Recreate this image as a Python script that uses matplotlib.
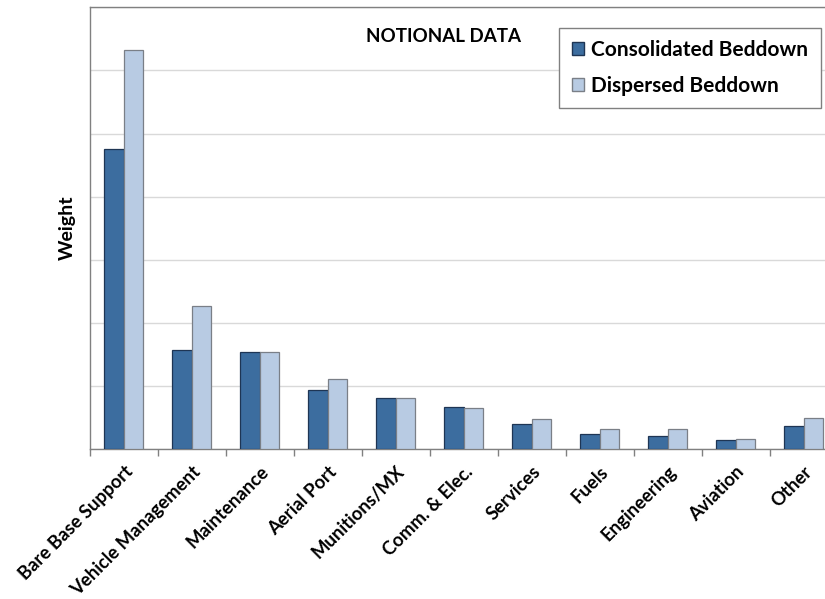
import numpy as np
import matplotlib.pyplot as plt
from matplotlib.patches import Patch

# datos (unidades de la rejilla)
categorias = ['Bare Base Support', 'Vehicle Management', 'Maintenance', 'Aerial Port',
              'Munitions/MX', 'Comm. & Elec.', 'Services', 'Fuels', 'Engineering',
              'Aviation', 'Other']
consolidado = [4.75, 1.565, 1.53, 0.935, 0.815, 0.66, 0.40, 0.23, 0.21, 0.15, 0.36]
disperso = [6.32, 2.27, 1.53, 1.105, 0.815, 0.65, 0.47, 0.32, 0.32, 0.165, 0.49]
series = ['Consolidated Beddown', 'Dispersed Beddown']

plt.rcParams['font.family'] = ['Lato', 'DejaVu Sans']

W, H = 825, 599
fig = plt.figure(figsize=(W / 100, H / 100), dpi=100)
# el eje se sale por la derecha, como en el original
ax = fig.add_axes([90 / W, (H - 449) / H, (837.6 - 90) / W, (449 - 7.3) / H])

x = np.arange(len(categorias))
w = 0.287
oscuro, claro = '#3c6d9f', '#b8cbe3'
ax.bar(x - w / 2, consolidado, w, color=oscuro, edgecolor='#1e3554', lw=0.9, zorder=3)
ax.bar(x + w / 2, disperso, w, color=claro, edgecolor='#7a7f87', lw=0.9, zorder=3)

ax.set_xlim(-0.5, len(categorias) - 0.5)
ax.set_ylim(0, 7)
ax.set_yticks(np.arange(0, 8))
ax.set_yticklabels([])
ax.tick_params(axis='y', length=0)
ax.yaxis.grid(True, color='#d9d9d9', lw=1, zorder=0)

# marcas en los límites de cada categoría
ax.set_xticks(np.arange(len(categorias) + 1) - 0.5)
ax.set_xticklabels([])
ax.tick_params(axis='x', which='major', direction='out', length=5, color='#808080', width=1)
ax.set_xticks(x, minor=True)
ax.set_xticklabels(categorias, minor=True, rotation=45, ha='right', rotation_mode='anchor',
                   fontsize=13.3, fontweight='bold')
ax.tick_params(axis='x', which='minor', length=0, pad=10)

for s in ['left', 'top', 'bottom', 'right']:
    ax.spines[s].set_color('#808080')
    ax.spines[s].set_linewidth(1)

ax.set_ylabel('Weight', fontsize=14, fontweight='bold', labelpad=7)
fig.text(444 / W, 1 - 37 / H, 'NOTIONAL DATA', fontsize=13.5, fontweight='bold',
         ha='center', va='center')

handles = [Patch(facecolor=oscuro, edgecolor='#1e3554'), Patch(facecolor=claro, edgecolor='#7a7f87')]
leg = fig.legend(handles, series, loc='upper left', bbox_to_anchor=(559 / W, 1 - 27.7 / H),
                 prop={'weight': 'bold', 'size': 15}, fancybox=False, borderaxespad=0,
                 edgecolor='#808080', framealpha=1, handlelength=0.6, handleheight=0.6,
                 handletextpad=0.35, labelspacing=0.75, borderpad=0.6)
leg.get_frame().set_linewidth(1)

fig.savefig('out.png', dpi=100)
